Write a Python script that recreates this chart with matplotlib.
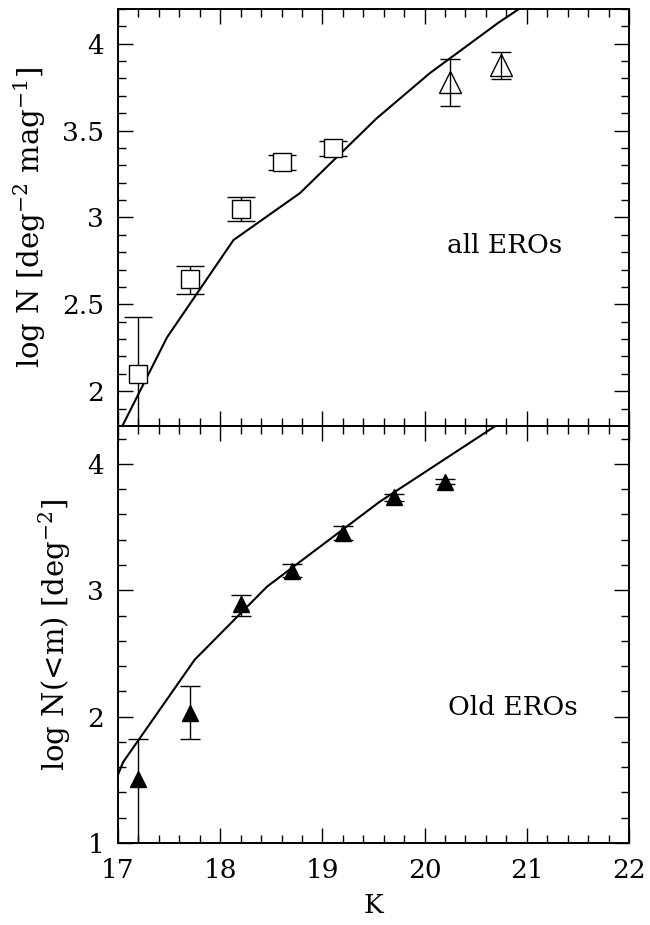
import matplotlib
import matplotlib.pyplot as plt
import numpy as np

plt.switch_backend("agg")
plt.rcParams["font.family"] = "serif"
plt.rcParams["font.serif"] = ["DejaVu Serif"]
plt.rcParams["mathtext.fontset"] = "dejavuserif"
plt.rcParams["axes.unicode_minus"] = False

# top panel: all EROs, differential counts
ALL_K = [17.2, 17.7, 18.2, 18.6, 19.1]
ALL_LOGN = [2.10, 2.645, 3.05, 3.317, 3.398]
ALL_ERR_LO = [0.60, 0.085, 0.07, 0.045, 0.043]
ALL_ERR_HI = [0.33, 0.075, 0.07, 0.045, 0.043]

ALL_K2 = [20.25, 20.75]
ALL_LOGN2 = [3.78, 3.875]
ALL_ERR2_LO = [0.14, 0.08]
ALL_ERR2_HI = [0.13, 0.08]

MODEL_ALL_K = [17.0, 17.48, 18.13, 18.78, 19.53, 20.05, 20.72, 21.0]
MODEL_ALL_LOGN = [1.75, 2.31, 2.87, 3.14, 3.57, 3.83, 4.12, 4.23]

# bottom panel: old EROs, cumulative counts
OLD_K = [17.2, 17.7, 18.2, 18.7, 19.2, 19.7, 20.2]
OLD_LOGN = [1.51, 2.03, 2.89, 3.155, 3.455, 3.735, 3.86]
OLD_ERR_LO = [0.70, 0.21, 0.09, 0.05, 0.055, 0.03, 0.02]
OLD_ERR_HI = [0.31, 0.21, 0.07, 0.05, 0.05, 0.03, 0.02]

MODEL_OLD_K = [17.0, 17.05, 17.75, 18.46, 19.56, 20.75]
MODEL_OLD_LOGN = [1.54, 1.64, 2.45, 3.03, 3.70, 4.33]

FS = 19
LABEL_FS = 21


def style_axes(ax):
    ax.tick_params(which="both", direction="in", top=True, right=True, width=1.0)
    ax.tick_params(which="major", length=11, labelsize=FS)
    ax.tick_params(which="minor", length=5.5)
    ax.tick_params(axis="y", pad=10)
    for sp in ax.spines.values():
        sp.set_linewidth(1.4)
    ax.set_xlim(17, 22)
    ax.set_xticks(np.arange(17, 23, 1))
    ax.set_xticks(np.arange(17, 22.01, 0.2), minor=True)


fig = plt.figure(figsize=(6.5, 9.25), dpi=100)
ax1 = fig.add_axes([0.1815, 0.5395, 0.7862, 0.4508])
ax2 = fig.add_axes([0.1815, 0.0886, 0.7862, 0.4509])

# top
style_axes(ax1)
ax1.set_ylim(1.8, 4.2)
ax1.set_yticks([2, 2.5, 3, 3.5, 4])
ax1.set_yticklabels(["2", "2.5", "3", "3.5", "4"])
ax1.set_yticks(np.arange(1.8, 4.21, 0.1), minor=True)
ax1.set_xticklabels([])
ax1.plot(MODEL_ALL_K, MODEL_ALL_LOGN, color="black", linewidth=1.5)
ax1.errorbar(ALL_K, ALL_LOGN, yerr=[ALL_ERR_LO, ALL_ERR_HI], fmt="s",
             mfc="white", mec="black", mew=1.0, ms=13, color="black",
             elinewidth=1.0, capsize=10, capthick=1.0)
ax1.errorbar(ALL_K2, ALL_LOGN2, yerr=[ALL_ERR2_LO, ALL_ERR2_HI], fmt="^",
             mfc="none", mec="black", mew=1.0, ms=16, color="black",
             elinewidth=1.0, capsize=7, capthick=1.0)
ax1.text(20.22, 2.84, "all EROs", fontsize=FS, ha="left", va="center")
ax1.set_ylabel(r"log N [deg$^{-2}$ mag$^{-1}$]", fontsize=LABEL_FS, labelpad=10)

# bottom
style_axes(ax2)
ax2.set_ylim(1, 4.3)
ax2.set_yticks([1, 2, 3, 4])
ax2.set_yticks(np.arange(1, 4.31, 0.2), minor=True)
ax2.set_xticklabels([str(k) for k in range(17, 23)])
ax2.plot(MODEL_OLD_K, MODEL_OLD_LOGN, color="black", linewidth=1.5)
ax2.errorbar(OLD_K, OLD_LOGN, yerr=[OLD_ERR_LO, OLD_ERR_HI], fmt="^",
             color="black", ms=12, elinewidth=1.0, capsize=7, capthick=1.0)
ax2.text(20.23, 2.07, "Old EROs", fontsize=FS, ha="left", va="center")
ax2.set_ylabel(r"log N(<m) [deg$^{-2}$]", fontsize=LABEL_FS, labelpad=10)
ax2.set_xlabel("K", fontsize=FS, labelpad=7)
ax2.tick_params(axis="x", pad=11)

fig.savefig("out.png", dpi=100)
